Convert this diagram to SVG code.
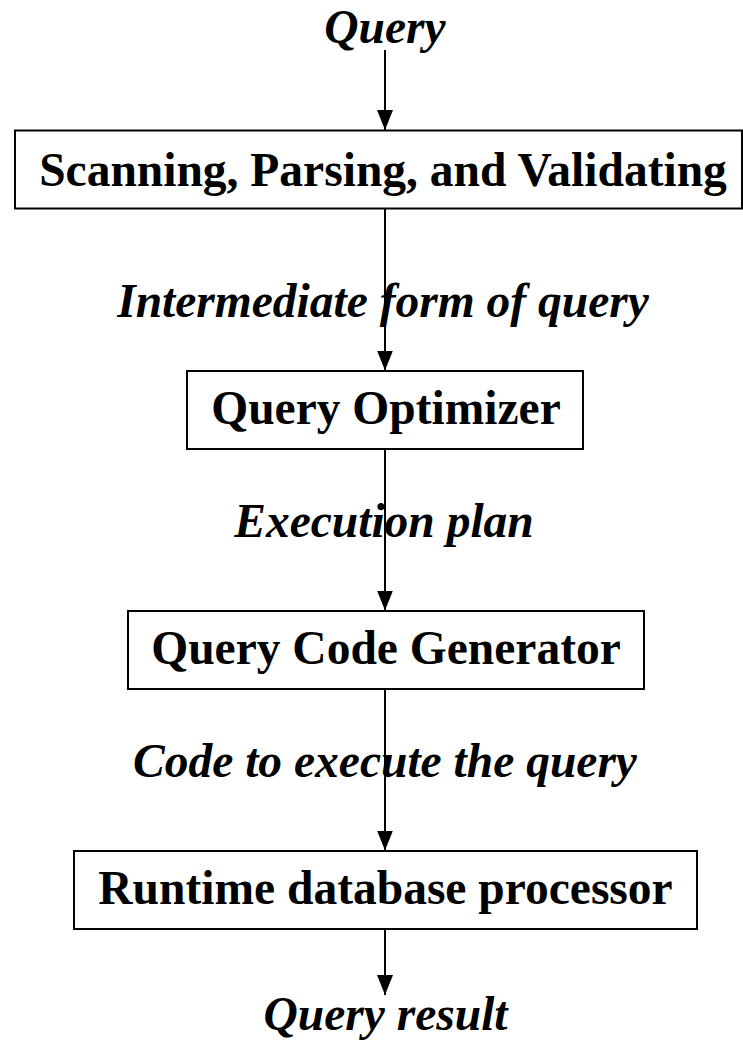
<svg xmlns="http://www.w3.org/2000/svg" width="743" height="1044" viewBox="0 0 743 1044">
<style>
.box{fill:#fff;stroke:#000;stroke-width:2}
.lbl{font-family:"Liberation Serif","Times New Roman",serif;font-size:47.5px;font-weight:bold;fill:#000;text-anchor:middle}
.it{font-style:italic}
.conn{stroke:#000;stroke-width:2;fill:none}
</style>
<defs>
<marker id="ah" markerUnits="userSpaceOnUse" markerWidth="21" markerHeight="17" refX="20" refY="8.5" orient="auto" viewBox="0 0 21 17">
<path d="M0,0.5 L20,8.5 L0,16.5 Z" fill="#000"/>
</marker>
</defs>
<rect width="743" height="1044" fill="#fff"/>
<g id="connectors">
<line class="conn" x1="385" y1="50" x2="385" y2="130" marker-end="url(#ah)"/>
<line class="conn" x1="385" y1="208.5" x2="385" y2="370.5" marker-end="url(#ah)"/>
<line class="conn" x1="385" y1="449" x2="385" y2="610.5" marker-end="url(#ah)"/>
<line class="conn" x1="385" y1="689" x2="385" y2="850.5" marker-end="url(#ah)"/>
<line class="conn" x1="385" y1="929" x2="385" y2="995" marker-end="url(#ah)"/>
</g>
<g id="label-query"><text class="lbl it" x="385" y="43">Query</text></g>
<g id="node-scan">
<rect class="box" x="15" y="130.5" width="727" height="78"/>
<text class="lbl" x="383" y="186">Scanning, Parsing, and Validating</text>
</g>
<g id="label-intermediate"><text class="lbl it" x="383" y="317">Intermediate form of query</text></g>
<g id="node-optimizer">
<rect class="box" x="187" y="371" width="396" height="78"/>
<text class="lbl" x="386" y="424">Query Optimizer</text>
</g>
<g id="label-plan"><text class="lbl it" x="384" y="537">Execution plan</text></g>
<g id="node-codegen">
<rect class="box" x="128" y="611" width="516" height="78"/>
<text class="lbl" x="386" y="664">Query Code Generator</text>
</g>
<g id="label-code"><text class="lbl it" x="385" y="777">Code to execute the query</text></g>
<g id="node-runtime">
<rect class="box" x="74" y="851" width="623" height="78"/>
<text class="lbl" x="385.5" y="904">Runtime database processor</text>
</g>
<g id="label-result"><text class="lbl it" x="385.5" y="1030">Query result</text></g>
</svg>
